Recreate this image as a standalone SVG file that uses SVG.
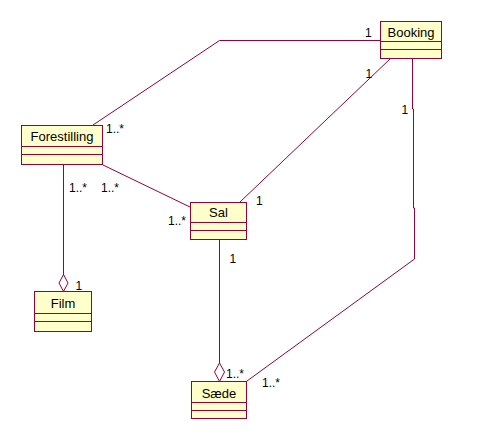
<svg xmlns="http://www.w3.org/2000/svg" width="478" height="438" viewBox="0 0 478 438">
  <style>
    .box { fill: #ffffcc; stroke: #990033; stroke-width: 1; }
    .sep { stroke: #990033; stroke-width: 1; fill: none; }
    .edge { stroke: #990033; stroke-width: 1; fill: none; }
    .agg { stroke: #990033; stroke-width: 1; fill: #ffffff; }
    .name { font-family: "Liberation Sans", Arial, sans-serif; font-size: 13px; fill: #000000; text-anchor: middle; }
    .mult { font-family: "Liberation Sans", Arial, sans-serif; font-size: 12px; fill: #000000; }
  </style>
  <rect width="478" height="438" fill="#ffffff"/>

  <!-- associations -->
  <g id="connectors">
    <polyline class="edge" points="380,40.5 219.5,40.5 93,125"/>
    <line class="edge" x1="390" y1="59" x2="240" y2="202"/>
    <polyline class="edge" points="412.5,59 412.5,109 413.5,109 413.5,208 414.5,208 414.5,259 247,381"/>
    <line class="edge" x1="103" y1="165" x2="190" y2="207"/>
    <line class="edge" x1="63.5" y1="164.5" x2="63.5" y2="275"/>
    <polygon class="agg" points="63.5,274.5 68,283 63.5,291.5 59,283"/>
    <line class="edge" x1="219.5" y1="239.5" x2="219.5" y2="363"/>
    <polygon class="agg" points="219.5,363 224.5,372 219.5,381.5 214.5,372"/>

    <text class="mult" x="365" y="37">1</text>
    <text class="mult" x="106" y="133">1..*</text>
    <text class="mult" x="365.5" y="78">1</text>
    <text class="mult" x="401.5" y="114">1</text>
    <text class="mult" x="69" y="192">1..*</text>
    <text class="mult" x="101" y="192">1..*</text>
    <text class="mult" x="168" y="225">1..*</text>
    <text class="mult" x="256" y="205">1</text>
    <text class="mult" x="229.5" y="263">1</text>
    <text class="mult" x="75.5" y="290">1</text>
    <text class="mult" x="226" y="378">1..*</text>
    <text class="mult" x="262" y="387">1..*</text>
  </g>

  <g id="booking">
    <rect class="box" x="380.5" y="21.5" width="61" height="37"/>
    <line class="sep" x1="380.5" y1="41.5" x2="441.5" y2="41.5"/>
    <line class="sep" x1="380.5" y1="49.5" x2="441.5" y2="49.5"/>
    <text class="name" x="411" y="37">Booking</text>
  </g>

  <g id="forestilling">
    <rect class="box" x="21.5" y="125.5" width="81" height="39"/>
    <line class="sep" x1="21.5" y1="146.5" x2="102.5" y2="146.5"/>
    <line class="sep" x1="21.5" y1="154.5" x2="102.5" y2="154.5"/>
    <text class="name" x="62" y="141">Forestilling</text>
  </g>

  <g id="sal">
    <rect class="box" x="190.5" y="202.5" width="56" height="37"/>
    <line class="sep" x1="190.5" y1="222.5" x2="246.5" y2="222.5"/>
    <line class="sep" x1="190.5" y1="230.5" x2="246.5" y2="230.5"/>
    <text class="name" x="218.5" y="217">Sal</text>
  </g>

  <g id="film">
    <rect class="box" x="34.5" y="291.5" width="57" height="40"/>
    <line class="sep" x1="34.5" y1="313.5" x2="91.5" y2="313.5"/>
    <line class="sep" x1="34.5" y1="321.5" x2="91.5" y2="321.5"/>
    <text class="name" x="63" y="307.5">Film</text>
  </g>

  <g id="saede">
    <rect class="box" x="191.5" y="381.5" width="55" height="37"/>
    <line class="sep" x1="191.5" y1="402.5" x2="246.5" y2="402.5"/>
    <line class="sep" x1="191.5" y1="410.5" x2="246.5" y2="410.5"/>
    <text class="name" x="219" y="397.5">Sæde</text>
  </g>
</svg>
